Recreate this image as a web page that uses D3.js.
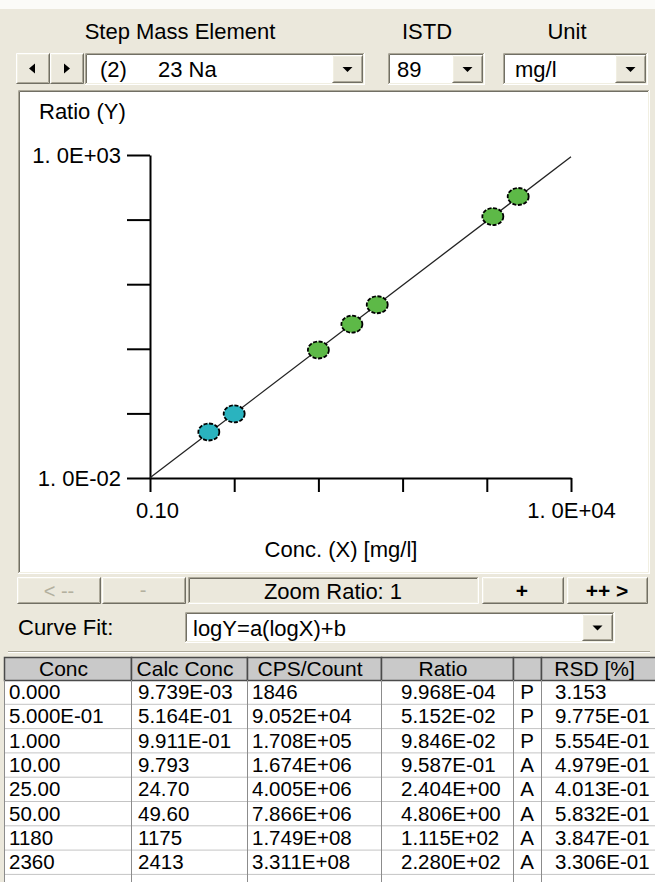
<!DOCTYPE html>
<html>
<head>
<meta charset="utf-8">
<script src="https://cdn.jsdelivr.net/npm/d3@7"></script>
<style>
html, body { margin: 0; padding: 0; background: #ebe8dc; }
svg { display: block; font-family: "Liberation Sans", Arial, sans-serif; }
</style>
</head>
<body>
<svg id="win" width="655" height="882"></svg>
<script>
// calibration grid, one entry per standard
var conc     = ["0.000", "5.000E-01", "1.000", "10.00", "25.00", "50.00", "1180", "2360"];
var calcConc = ["9.739E-03", "5.164E-01", "9.911E-01", "9.793", "24.70", "49.60", "1175", "2413"];
var cpsCount = ["1846", "9.052E+04", "1.708E+05", "1.674E+06", "4.005E+06", "7.866E+06", "1.749E+08", "3.311E+08"];
var ratio    = ["9.968E-04", "5.152E-02", "9.846E-02", "9.587E-01", "2.404E+00", "4.806E+00", "1.115E+02", "2.280E+02"];
var detMode  = ["P", "P", "P", "A", "A", "A", "A", "A"];
var rsd      = ["3.153", "9.775E-01", "5.554E-01", "4.979E-01", "4.013E-01", "5.832E-01", "3.847E-01", "3.306E-01"];
var headers  = ["Conc", "Calc Conc", "CPS/Count", "Ratio", "", "RSD [%]"];

// axis ticks (decades) and the only labels the plot prints
var xTicks = [0.1, 1, 10, 100, 1000, 10000];
var xTickLabels = ["0.10", "", "", "", "", "1. 0E+04"];
var yTicks = [0.01, 0.1, 1, 10, 100, 1000];
var yTickLabels = ["1. 0E-02", "", "", "", "", "1. 0E+03"];

var FACE = "#ebe8dc", HI = "#ffffff", LT = "#f1efe2", SH = "#aca899", DK = "#716f64";
var FS = 22;
var svg = d3.select("#win");

svg.append("rect").attr("width", 655).attr("height", 882).attr("fill", FACE);
svg.append("rect").attr("width", 655).attr("height", 9).attr("fill", "#fbfbf8");

function raised(x0, y0, w, h) {
	var g = svg.append("g");
	g.append("rect").attr("x", x0).attr("y", y0).attr("width", w).attr("height", h).attr("fill", FACE);
	g.append("path").attr("d", "M" + (x0 + 0.5) + "," + (y0 + h - 1) + "V" + (y0 + 0.5) + "H" + (x0 + w - 1))
		.attr("stroke", HI).attr("fill", "none");
	g.append("path").attr("d", "M" + (x0 + 1.5) + "," + (y0 + h - 2) + "V" + (y0 + 1.5) + "H" + (x0 + w - 2))
		.attr("stroke", LT).attr("fill", "none");
	g.append("path").attr("d", "M" + (x0 + 0.5) + "," + (y0 + h - 0.5) + "H" + (x0 + w - 0.5) + "V" + (y0 + 0.5))
		.attr("stroke", DK).attr("fill", "none");
	g.append("path").attr("d", "M" + (x0 + 1.5) + "," + (y0 + h - 1.5) + "H" + (x0 + w - 1.5) + "V" + (y0 + 1.5))
		.attr("stroke", SH).attr("fill", "none");
	return g;
}

function sunken(x0, y0, w, h, fill) {
	var g = svg.append("g");
	g.append("rect").attr("x", x0).attr("y", y0).attr("width", w).attr("height", h).attr("fill", fill);
	g.append("path").attr("d", "M" + (x0 + 0.5) + "," + (y0 + h - 1) + "V" + (y0 + 0.5) + "H" + (x0 + w - 1))
		.attr("stroke", SH).attr("fill", "none");
	g.append("path").attr("d", "M" + (x0 + 1.5) + "," + (y0 + h - 2) + "V" + (y0 + 1.5) + "H" + (x0 + w - 2))
		.attr("stroke", DK).attr("fill", "none");
	g.append("path").attr("d", "M" + (x0 + 0.5) + "," + (y0 + h - 0.5) + "H" + (x0 + w - 0.5) + "V" + (y0 + 0.5))
		.attr("stroke", HI).attr("fill", "none");
	g.append("path").attr("d", "M" + (x0 + 1.5) + "," + (y0 + h - 1.5) + "H" + (x0 + w - 1.5) + "V" + (y0 + 1.5))
		.attr("stroke", LT).attr("fill", "none");
	return g;
}

function label(txt, x0, y0, anchor, opts) {
	opts = opts || {};
	return svg.append("text").attr("x", x0).attr("y", y0).attr("text-anchor", anchor || "start")
		.attr("font-size", opts.size || FS).attr("fill", opts.fill || "#000")
		.attr("font-weight", opts.weight || "normal").text(txt);
}

function combo(x0, y0, w, h, txt, tx) {
	sunken(x0, y0, w, h, "#fff");
	var bw = 31;
	raised(x0 + w - bw - 2, y0 + 2, bw, h - 4);
	var cx = x0 + w - 2 - bw / 2, cy = y0 + h / 2;
	svg.append("path").attr("d", "M" + (cx - 5) + "," + (cy - 2) + "h10l-5,5z").attr("fill", "#000");
	txt.forEach(function (t, i) { label(t, tx[i], y0 + h / 2 + 8); });
}

// header row
label("Step Mass Element", 180, 39, "middle");
label("ISTD", 427, 39, "middle");
label("Unit", 567, 39, "middle");

// element selector row
raised(16, 53, 34, 31);
raised(50, 53, 34, 31);
svg.append("path").attr("d", "M29,68.5l6,-5v10z").attr("fill", "#000");
svg.append("path").attr("d", "M70,68.5l-6,-5v10z").attr("fill", "#000");
combo(85, 53, 280, 32, ["(2)", "23 Na"], [100, 158]);
combo(388, 53, 97, 32, ["89"], [397]);
combo(503, 53, 145, 32, ["mg/l"], [515]);

// plot panel
sunken(18, 90, 632, 484, "#fff");

var x = d3.scaleLog().domain([0.1, 10000]).range([150, 571]);
var y = d3.scaleLog().domain([0.01, 1000]).range([478, 155]);

var plot = svg.append("g");

var yAxis = d3.axisLeft(y).tickValues(yTicks).tickSize(23).tickSizeOuter(0).tickPadding(6)
	.tickFormat(function (d, i) { return yTickLabels[i]; });
var gy = plot.append("g").attr("transform", "translate(150,0)").call(yAxis);

var xAxis = d3.axisBottom(x).tickValues(xTicks).tickSize(14).tickSizeOuter(0).tickPadding(10)
	.tickFormat(function (d, i) { return xTickLabels[i]; });
var gx = plot.append("g").attr("transform", "translate(0,478)").call(xAxis);

[gx, gy].forEach(function (g) {
	g.attr("font-family", null).attr("font-size", null);
	g.selectAll("line, path").attr("stroke", "#000").attr("stroke-width", 2);
	g.selectAll("text").attr("font-size", FS).attr("fill", "#000");
});
gx.selectAll("text").attr("dx", function (d, i) { return i === 0 ? 7 : 0; });

label("Ratio (Y)", 39, 119);
label("Conc. (X) [mg/l]", 341, 557, "middle");

// log-log least squares fit: logY = a(logX) + b
var pts = [];
conc.forEach(function (c, i) {
	if (+c > 0) pts.push({ c: +c, r: +ratio[i], mode: detMode[i] });
});
var mx = d3.mean(pts, function (p) { return Math.log10(p.c); });
var my = d3.mean(pts, function (p) { return Math.log10(p.r); });
var sxy = d3.sum(pts, function (p) { return (Math.log10(p.c) - mx) * (Math.log10(p.r) - my); });
var sxx = d3.sum(pts, function (p) { return Math.pow(Math.log10(p.c) - mx, 2); });
var fitA = sxy / sxx, fitB = my - fitA * mx;
var fitLine = x.domain().map(function (c) { return [c, Math.pow(10, fitA * Math.log10(c) + fitB)]; });

plot.append("path")
	.attr("d", d3.line().x(function (d) { return x(d[0]); }).y(function (d) { return y(d[1]); })(fitLine))
	.attr("fill", "none").attr("stroke", "#222").attr("stroke-width", 1.3);

var modeColor = { P: "#2ab3bf", A: "#5db947" };
plot.selectAll(".pt").data(pts).enter().append("ellipse")
	.attr("class", "pt")
	.attr("cx", function (d) { return x(d.c); })
	.attr("cy", function (d) { return y(d.r); })
	.attr("rx", 10.5).attr("ry", 8.5)
	.attr("fill", function (d) { return modeColor[d.mode]; })
	.attr("stroke", "#000").attr("stroke-width", 1.8).attr("stroke-dasharray", "4,1.6");

// zoom bar
raised(17, 577, 84, 27); label("< --", 59, 598, "middle", { fill: "#b3b09f", size: 20 });
raised(102, 577, 84, 27); label("-", 143, 597, "middle", { fill: "#b3b09f", size: 20 });
sunken(188, 577, 291, 27, FACE); label("Zoom Ratio: 1", 333, 599, "middle");
raised(482, 577, 82, 27); label("+", 522, 598, "middle", { weight: "bold", size: 21 });
raised(567, 577, 81, 27); label("++ >", 607, 598, "middle", { weight: "bold", size: 21 });

// curve fit selector
label("Curve Fit:", 18, 635);
combo(185, 612, 430, 31, ["logY=a(logX)+b"], [193]);

svg.append("line").attr("x1", 8).attr("x2", 650).attr("y1", 651.5).attr("y2", 651.5).attr("stroke", SH);
svg.append("line").attr("x1", 8).attr("x2", 650).attr("y1", 652.5).attr("y2", 652.5).attr("stroke", HI);

// results grid
var colX = [4, 131, 247, 381, 513, 541, 656];
var colPad = [5, 7, 5, 20, 0, 14];
var headTop = 657, headH = 23, rowH = 24.3, TFS = 20.5;
var rows = conc.map(function (c, i) { return [c, calcConc[i], cpsCount[i], ratio[i], detMode[i], rsd[i]]; });
var tbl = svg.append("g").attr("font-family", "'Liberation Sans Narrow', 'Arial Narrow', sans-serif");

tbl.append("rect").attr("x", colX[0]).attr("y", headTop + headH).attr("width", 655 - colX[0])
	.attr("height", 882 - headTop - headH).attr("fill", "#fff");

headers.forEach(function (h, j) {
	tbl.append("rect").attr("x", colX[j] + 0.5).attr("y", headTop + 0.5)
		.attr("width", colX[j + 1] - colX[j]).attr("height", headH)
		.attr("fill", "#c9c9c9").attr("stroke", "#4a4a4a").attr("stroke-width", 1.5);
	tbl.append("text").attr("x", (colX[j] + colX[j + 1]) / 2 - 4).attr("y", headTop + 18.5)
		.attr("text-anchor", "middle").attr("font-size", TFS + 0.5).text(h);
});

rows.forEach(function (r, i) {
	var top = headTop + headH + i * rowH;
	tbl.append("line").attr("x1", colX[0]).attr("x2", 655).attr("y1", top + rowH).attr("y2", top + rowH)
		.attr("stroke", "#c4c4c4");
	r.forEach(function (v, j) {
		tbl.append("text")
			.attr("x", j === 4 ? (colX[j] + colX[j + 1]) / 2 : colX[j] + colPad[j])
			.attr("text-anchor", j === 4 ? "middle" : "start")
			.attr("y", top + 19).attr("font-size", TFS).text(v);
	});
});
colX.slice(0, 6).forEach(function (cx) {
	tbl.append("line").attr("x1", cx + 0.5).attr("x2", cx + 0.5).attr("y1", headTop + headH).attr("y2", 882)
		.attr("stroke", "#8c8c8c");
});
</script>
</body>
</html>
